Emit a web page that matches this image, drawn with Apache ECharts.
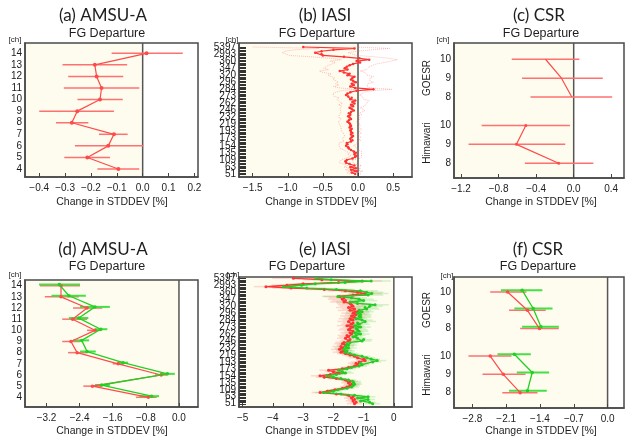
<!DOCTYPE html>
<html>
<head>
<meta charset="utf-8">
<script src="https://cdn.jsdelivr.net/npm/echarts@6/dist/echarts.min.js"></script>
<style>
  html, body { margin: 0; padding: 0; background: #fff; }
  #chart { width: 625px; height: 439px; }
</style>
</head>
<body>
<div id="chart"></div>
<script>
// ---------- data ----------
// AMSU-A channels (panels a, d)
const amsuChannels = [4, 5, 6, 7, 8, 9, 10, 11, 12, 13, 14];
const amsuA   = [-0.094, -0.214, -0.133, -0.111, -0.274, -0.253, -0.165, -0.159, -0.178, -0.185, 0.015];
const amsuALo = [-0.175, -0.303, -0.262, -0.169, -0.335, -0.400, -0.252, -0.305, -0.288, -0.310, -0.120];
const amsuAHi = [-0.013, -0.126, 0.003, -0.058, -0.210, -0.111, -0.077, -0.013, -0.075, -0.060, 0.155];

const amsuDRed     = [-0.74, -2.09, -0.43, -1.47, -2.46, -2.61, -2.03, -2.57, -2.22, -2.85, -2.85];
const amsuDRedLo   = [-1.04, -2.31, -0.58, -1.60, -2.68, -2.82, -2.22, -2.82, -2.56, -3.24, -3.36];
const amsuDRedHi   = [-0.54, -1.85, -0.28, -1.33, -2.22, -2.39, -1.87, -2.22, -1.85, -2.42, -2.39];
const amsuDGreen   = [-0.66, -1.87, -0.28, -1.35, -2.22, -2.35, -1.89, -2.42, -2.03, -2.66, -2.89];
const amsuDGreenLo = [-0.96, -2.03, -0.46, -1.49, -2.39, -2.56, -2.03, -2.66, -2.39, -3.08, -3.38];
const amsuDGreenHi = [-0.48, -1.67, -0.10, -1.23, -2.01, -2.17, -1.73, -2.19, -1.67, -2.25, -2.39];

// IASI channels (panels b, e), bottom to top
const iasiChannels = [51, 55, 57, 59, 61, 63, 70, 79, 85, 104, 109, 116, 122, 128, 131, 135, 138, 141, 144, 148,
  154, 157, 161, 163, 167, 173, 176, 179, 185, 187, 193, 199, 205, 207, 212, 219, 222, 224, 226, 230,
  232, 236, 239, 242, 243, 246, 249, 252, 254, 260, 262, 265, 267, 269, 271, 273, 275, 278, 280, 282,
  284, 286, 288, 290, 294, 296, 299, 306, 314, 316, 320, 323, 327, 331, 335, 347, 350, 352, 354, 356,
  360, 366, 373, 379, 1579, 2993, 3002, 3049, 3105, 5381, 5397];
const iasiLabelled = [51, 63, 109, 135, 154, 173, 193, 219, 232, 246, 262, 273, 284, 296, 320, 347, 360, 2993, 5397];

const iasiB = [-0.04, -0.09, -0.02, -0.10, -0.03, -0.11, -0.05, -0.12, -0.17, -0.18,
  -0.16, -0.08, -0.04, -0.02, -0.05, -0.03, -0.06, -0.10, -0.13, -0.14,
  -0.17, -0.15, -0.16, -0.10, -0.08, -0.11, -0.09, -0.07, -0.10, -0.08,
  -0.10, -0.11, -0.09, -0.12, -0.10, -0.11, -0.12, -0.15, -0.13, -0.10,
  -0.12, -0.14, -0.11, -0.13, -0.10, -0.06, -0.09, -0.12, -0.07, -0.10,
  -0.05, -0.08, -0.04, -0.11, -0.09, -0.14, -0.17, -0.15, -0.11, -0.02,
  0.22, -0.04, -0.11, -0.06, -0.09, -0.03, -0.07, -0.10, -0.08, -0.05,
  -0.15, -0.12, -0.20, -0.26, -0.15, -0.19, -0.16, -0.12, -0.07, 0.03,
  -0.02, 0.16, 0.02, -0.20, -0.50, -0.52, -0.61, -0.52, -0.35, -0.05, -0.78];
const iasiBErr = [0.08, 0.07, 0.09, 0.08, 0.07, 0.09, 0.10, 0.08, 0.10, 0.09,
  0.08, 0.10, 0.09, 0.08, 0.10, 0.09, 0.11, 0.10, 0.12, 0.11,
  0.10, 0.12, 0.11, 0.10, 0.12, 0.11, 0.13, 0.12, 0.11, 0.13,
  0.12, 0.13, 0.14, 0.12, 0.13, 0.15, 0.14, 0.13, 0.15, 0.14,
  0.15, 0.14, 0.16, 0.15, 0.14, 0.16, 0.17, 0.15, 0.16, 0.18,
  0.17, 0.18, 0.20, 0.19, 0.18, 0.20, 0.19, 0.21, 0.20, 0.22,
  0.26, 0.22, 0.24, 0.21, 0.23, 0.25, 0.24, 0.26, 0.25, 0.27,
  0.28, 0.26, 0.30, 0.29, 0.27, 0.30, 0.32, 0.30, 0.33, 0.35,
  0.38, 0.40, 0.42, 0.45, 0.48, 0.50, 0.47, 0.52, 0.55, 0.50, 0.72];

const iasiERed = [-1.30, -1.25, -1.35, -1.30, -1.40, -1.35, -1.50, -1.90, -2.44, -2.20,
  -1.95, -1.70, -1.55, -1.45, -1.40, -1.50, -1.45, -1.60, -1.90, -2.30,
  -2.44, -2.10, -1.80, -2.00, -2.16, -1.70, -1.50, -1.30, -1.20, -1.25,
  -1.15, -0.95, -1.00, -1.20, -1.30, -1.45, -1.60, -1.75, -1.65, -1.80,
  -1.70, -1.75, -1.60, -1.70, -1.65, -1.50, -1.45, -1.60, -1.50, -1.55,
  -1.40, -1.45, -1.35, -1.50, -1.45, -1.35, -1.55, -1.40, -1.35, -1.50,
  -1.35, -1.45, -1.30, -1.40, -1.25, -1.35, -1.20, -1.45, -1.30, -1.50,
  -1.35, -1.40, -1.45, -1.65, -1.60, -1.70, -1.65, -1.80, -1.35, -0.95,
  -1.20, -1.60, -2.30, -3.40, -4.23, -3.54, -3.00, -1.83, -1.05, -2.38, -3.32];
const iasiEGreen = [-0.70, -0.80, -1.10, -0.85, -1.20, -0.85, -1.30, -1.75, -2.33, -2.00,
  -1.85, -1.55, -1.40, -1.35, -1.30, -1.33, -1.35, -1.50, -1.75, -2.00,
  -2.22, -1.90, -1.60, -1.70, -1.83, -1.55, -1.40, -1.15, -1.05, -1.10,
  -0.70, -0.55, -0.75, -0.90, -1.05, -1.30, -1.45, -1.60, -1.55, -1.65,
  -1.50, -1.60, -1.50, -1.55, -1.45, -1.05, -1.00, -1.20, -1.35, -1.25,
  -1.10, -1.30, -1.15, -1.20, -1.25, -1.10, -1.30, -1.15, -1.20, -0.95,
  -1.05, -1.25, -1.10, -1.15, -1.10, -1.20, -1.05, -1.15, -0.90, -0.95,
  -0.80, -0.62, -1.20, -1.45, -1.00, -1.15, -1.40, -1.85, -0.85, -0.73,
  -0.90, -1.11, -1.90, -2.88, -3.65, -3.05, -2.60, -1.61, -0.75, -2.07, -2.57];
const iasiEErr = [0.25, 0.22, 0.24, 0.23, 0.25, 0.24, 0.26, 0.25, 0.28, 0.27,
  0.26, 0.25, 0.24, 0.23, 0.25, 0.24, 0.26, 0.25, 0.27, 0.28,
  0.30, 0.28, 0.27, 0.29, 0.30, 0.28, 0.27, 0.26, 0.25, 0.27,
  0.28, 0.30, 0.29, 0.28, 0.27, 0.26, 0.28, 0.27, 0.26, 0.28,
  0.27, 0.28, 0.29, 0.27, 0.28, 0.30, 0.29, 0.28, 0.30, 0.31,
  0.30, 0.32, 0.31, 0.33, 0.32, 0.34, 0.33, 0.35, 0.34, 0.36,
  0.35, 0.37, 0.36, 0.38, 0.37, 0.39, 0.38, 0.40, 0.42, 0.41,
  0.43, 0.45, 0.44, 0.46, 0.45, 0.48, 0.50, 0.52, 0.50, 0.55,
  0.55, 0.58, 0.60, 0.62, 0.40, 0.50, 0.55, 0.60, 0.65, 0.62, 0.70];

// CSR (panels c, f): Himawari 8,9,10 then GOESR 8,9,10
const csrPos    = [1, 2, 3, 4.5, 5.5, 6.5];
const csrLabels = ['8', '9', '10', '8', '9', '10'];
const csrC   = [-0.16, -0.61, -0.51, -0.02, -0.13, -0.30];
const csrCLo = [-0.52, -1.12, -0.98, -0.46, -0.55, -0.66];
const csrCHi = [0.21, -0.09, -0.04, 0.41, 0.31, 0.06];
const csrFRed     = [-1.81, -2.16, -2.43, -1.41, -1.66, -2.07];
const csrFRedLo   = [-2.18, -2.59, -2.88, -1.81, -2.04, -2.43];
const csrFRedHi   = [-1.45, -1.70, -1.99, -1.01, -1.28, -1.68];
const csrFGreen   = [-1.66, -1.56, -1.93, -1.38, -1.54, -1.77];
const csrFGreenLo = [-2.04, -1.88, -2.28, -1.77, -1.93, -2.21];
const csrFGreenHi = [-1.26, -1.21, -1.59, -1.01, -1.14, -1.35];

// x tick labels
const ticksA = [-0.4, -0.3, -0.2, -0.1, 0, 0.1, 0.2];
const ticksB = [-1.5, -1.0, -0.5, 0, 0.5];
const ticksC = [-1.2, -0.8, -0.4, 0, 0.4];
const ticksD = [-3.2, -2.4, -1.6, -0.8, 0];
const ticksE = [-5, -4, -3, -2, -1, 0];
const ticksF = [-2.8, -2.1, -1.4, -0.7, 0];

// ---------- helpers ----------
const FONT = '"Liberation Sans", Arial, sans-serif';
const RED = '#ff4a4a', RED_BAR = '#ff7070', GREEN = '#22d022', GREEN_BAR = '#44e044';
const FRAME = { color: '#4a4a4a', width: 1.5 };

const iasiIdx = iasiChannels.map((c, k) => k);

const fmt = (v, d) => (v < 0 ? '\u2212' : '') + Math.abs(v).toFixed(d);

function xAxisFor(i, min, max, ticks, digits) {
  return {
    gridIndex: i, type: 'value', min, max, z: 8, position: 'bottom',
    axisLine: { show: true, onZero: false, lineStyle: FRAME }, splitLine: { show: false },
    axisTick: { show: true, inside: true, length: 4, customValues: ticks, lineStyle: { color: '#444' } },
    axisLabel: {
      customValues: ticks, showMinLabel: true, showMaxLabel: true,
      formatter: v => fmt(v, digits), fontSize: 10, color: '#222', margin: 6, fontFamily: FONT
    }
  };
}

function yAxisFor(i, min, max, labelVals, labelFn, bare) {
  return {
    gridIndex: i, type: 'value', min, max, z: 8, position: 'left',
    axisLine: { show: !bare, onZero: false, lineStyle: FRAME }, splitLine: { show: false },
    axisTick: { show: false },
    axisLabel: {
      customValues: labelVals, showMinLabel: true, showMaxLabel: true, hideOverlap: false,
      formatter: labelFn, fontSize: 10, color: '#1a1a1a', margin: 3, fontFamily: FONT
    }
  };
}

// white area right of zero plus the zero line
function backdrop(i, yRef) {
  return {
    type: 'custom', xAxisIndex: i, yAxisIndex: i, z: 1, silent: true,
    encode: { x: 0, y: 1 }, data: [[0, yRef]],
    renderItem: (params, api) => {
      const cs = params.coordSys;
      const x0 = api.coord([0, yRef])[0];
      return {
        type: 'group', children: [
          { type: 'rect', shape: { x: x0, y: cs.y + 1, width: cs.x + cs.width - 1 - x0, height: cs.height - 2 }, style: { fill: '#ffffff' } },
          { type: 'line', shape: { x1: x0, y1: cs.y, x2: x0, y2: cs.y + cs.height }, style: { stroke: '#555', lineWidth: 1.5 } }
        ]
      };
    }
  };
}

// one short inward tick per IASI channel along the left frame
function channelTicks(i, ys) {
  return {
    type: 'custom', xAxisIndex: i, yAxisIndex: i, z: 7, silent: true,
    encode: { x: 0, y: 1 }, data: ys.map(y => [0, y]),
    renderItem: (params, api) => {
      const cs = params.coordSys;
      const y = Math.round(api.coord([0, api.value(1)])[1]) + 0.5;
      return { type: 'line', shape: { x1: cs.x, y1: y, x2: cs.x + 7, y2: y }, style: { stroke: '#333', lineWidth: 1 } };
    }
  };
}

function bars(i, ys, lo, hi, color, width, z) {
  return {
    type: 'custom', xAxisIndex: i, yAxisIndex: i, z, silent: true, clip: true,
    encode: { x: [1, 2], y: 0 },
    data: ys.map((y, k) => [y, lo[k], hi[k]]),
    renderItem: (params, api) => {
      const a = api.coord([api.value(1), api.value(0)]);
      const b = api.coord([api.value(2), api.value(0)]);
      return { type: 'line', shape: { x1: a[0], y1: a[1], x2: b[0], y2: b[1] }, style: { stroke: color, lineWidth: width } };
    }
  };
}

function line(i, xs, ys, color, width, size, z, dotted) {
  return {
    type: 'line', xAxisIndex: i, yAxisIndex: i, z, silent: true,
    data: xs.map((x, k) => [x, ys[k]]),
    symbol: 'circle', symbolSize: size, showSymbol: size > 0,
    lineStyle: { color, width, type: dotted ? 'dotted' : 'solid' },
    itemStyle: { color }
  };
}

const shift = (arr, d) => arr.map(v => v + d);
const part = (arr, a, b) => arr.slice(a, b);

// ---------- layout ----------
const grids = [
  { left: 25, top: 43, width: 173, height: 134 },
  { left: 239, top: 43, width: 173, height: 134 },
  { left: 454, top: 43, width: 170, height: 135 },
  { left: 25, top: 280, width: 173, height: 127 },
  { left: 239, top: 277, width: 173, height: 130 },
  { left: 454, top: 277, width: 170, height: 131 }
].map(g => Object.assign(g, { show: true, backgroundColor: '#fefcee', borderColor: '#4a4a4a', borderWidth: 1.5 }));

const xAxes = [
  xAxisFor(0, -0.455, 0.214, ticksA, 1),
  xAxisFor(1, -1.695, 0.769, ticksB, 1),
  xAxisFor(2, -1.275, 0.536, ticksC, 1),
  xAxisFor(3, -3.72, 0.46, ticksD, 1),
  xAxisFor(4, -5.12, 0.60, ticksE, 0),
  xAxisFor(5, -3.18, 0.34, ticksF, 1)
];

const csrLabel = v => csrLabels[csrPos.indexOf(v)];
// IASI labels overlap each other, so they are split over two stacked axes
const iasiLabelIdx = iasiIdx.filter(k => iasiLabelled.includes(iasiChannels[k]));
const iasiEven = iasiLabelIdx.filter((k, j) => j % 2 === 0);
const iasiOdd = iasiLabelIdx.filter((k, j) => j % 2 === 1);
const iasiName = v => String(iasiChannels[v]);
const yAxes = [
  yAxisFor(0, 3.31, 14.89, amsuChannels, v => String(v)),
  yAxisFor(1, -2.13, 92.83, iasiEven, iasiName),
  yAxisFor(2, 0.22, 7.36, csrPos, csrLabel),
  yAxisFor(3, 3.13, 14.51, amsuChannels, v => String(v)),
  yAxisFor(4, -2.37, 90.93, iasiEven, iasiName),
  yAxisFor(5, 0.16, 7.32, csrPos, csrLabel),
  yAxisFor(1, -2.13, 92.83, iasiOdd, iasiName, true),
  yAxisFor(4, -2.37, 90.93, iasiOdd, iasiName, true)
];

const series = [
  // (a)
  backdrop(0, 4),
  bars(0, amsuChannels, amsuALo, amsuAHi, RED_BAR, 1.5, 3),
  line(0, amsuA, amsuChannels, RED, 1.2, 4, 4),
  // (b)
  backdrop(1, 0),
  channelTicks(1, iasiIdx),
  line(1, iasiB.map((v, k) => v - iasiBErr[k]), iasiIdx, 'rgba(255,110,110,0.45)', 1, 0, 3, true),
  line(1, iasiB.map((v, k) => v + iasiBErr[k]), iasiIdx, 'rgba(255,110,110,0.45)', 1, 0, 3, true),
  line(1, iasiB, iasiIdx, '#ff3333', 1.2, 2.5, 4),
  // (c)
  backdrop(2, 1),
  bars(2, csrPos, csrCLo, csrCHi, RED_BAR, 1.5, 3),
  line(2, part(csrC, 0, 3), part(csrPos, 0, 3), RED, 1.2, 3, 4),
  line(2, part(csrC, 3, 6), part(csrPos, 3, 6), RED, 1.2, 0, 4),
  // (d)
  backdrop(3, 4),
  bars(3, amsuChannels, amsuDRedLo, amsuDRedHi, RED_BAR, 1.5, 3),
  bars(3, shift(amsuChannels, 0.1), amsuDGreenLo, amsuDGreenHi, GREEN_BAR, 2, 4),
  line(3, amsuDRed, amsuChannels, RED, 1.2, 3.5, 5),
  line(3, amsuDGreen, shift(amsuChannels, 0.1), GREEN, 1.3, 3.5, 6),
  // (e)
  backdrop(4, 0),
  channelTicks(4, iasiIdx),
  bars(4, iasiIdx, iasiERed.map((v, k) => v - iasiEErr[k]), iasiERed.map((v, k) => v + iasiEErr[k]), 'rgba(255,90,90,0.22)', 1.5, 3),
  bars(4, iasiIdx, iasiEGreen.map((v, k) => v - iasiEErr[k]), iasiEGreen.map((v, k) => v + iasiEErr[k]), 'rgba(60,210,60,0.22)', 1.5, 3),
  line(4, iasiERed, iasiIdx, '#ff3333', 1.3, 3, 5),
  line(4, iasiEGreen, iasiIdx, '#22cc22', 1.3, 3, 6),
  // (f)
  backdrop(5, 1),
  bars(5, csrPos, csrFRedLo, csrFRedHi, RED_BAR, 1.5, 3),
  bars(5, shift(csrPos, 0.1), csrFGreenLo, csrFGreenHi, GREEN_BAR, 2, 4),
  line(5, part(csrFRed, 0, 3), part(csrPos, 0, 3), RED, 1.2, 3.5, 5),
  line(5, part(csrFRed, 3, 6), part(csrPos, 3, 6), RED, 1.2, 3.5, 5),
  line(5, part(csrFGreen, 0, 3), part(shift(csrPos, 0.1), 0, 3), GREEN, 1.3, 3.5, 6),
  line(5, part(csrFGreen, 3, 6), part(shift(csrPos, 0.1), 3, 6), GREEN, 1.3, 3.5, 6)
];

// ---------- texts ----------
const TITLE = '17px Lato, "Open Sans", sans-serif';
const SUB = '12.5px ' + FONT;
const XL = '10.5px ' + FONT;
const CH = '8px ' + FONT;
const txt = (text, x, y, font, rot) => ({
  type: 'text', x, y, rotation: rot || 0, silent: true,
  style: { text, font, fill: '#1e1e1e', textAlign: 'center', textVerticalAlign: 'middle' }
});
const graphics = [
  txt('(a) AMSU-A', 103, 16, TITLE), txt('FG Departure', 107, 34, SUB), txt('Change in STDDEV [%]', 112, 202, XL), txt('[ch]', 15, 40, CH),
  txt('(b) IASI', 325, 16, TITLE), txt('FG Departure', 317, 34, SUB), txt('Change in STDDEV [%]', 321, 202, XL), txt('[ch]', 232, 40, CH),
  txt('(c) CSR', 539, 16, TITLE), txt('FG Departure', 541, 34, SUB), txt('Change in STDDEV [%]', 541, 202, XL), txt('[ch]', 443, 40, CH),
  txt('GOESR', 427, 78, '10px ' + FONT, Math.PI / 2), txt('Himawari', 427, 143, '10px ' + FONT, Math.PI / 2),
  txt('(d) AMSU-A', 103, 250, TITLE), txt('FG Departure', 107, 267, SUB), txt('Change in STDDEV [%]', 112, 431, XL), txt('[ch]', 15, 275, CH),
  txt('(e) IASI', 325, 250, TITLE), txt('FG Departure', 307, 267, SUB), txt('Change in STDDEV [%]', 321, 431, XL), txt('[ch]', 233, 275, CH),
  txt('(f) CSR', 538, 250, TITLE), txt('FG Departure', 538, 267, SUB), txt('Change in STDDEV [%]', 541, 431, XL), txt('[ch]', 447, 276, CH),
  txt('GOESR', 427, 310, '10px ' + FONT, Math.PI / 2), txt('Himawari', 427, 375, '10px ' + FONT, Math.PI / 2)
];

const chart = echarts.init(document.getElementById('chart'));
chart.setOption({
  animation: false,
  textStyle: { fontFamily: FONT },
  grid: grids,
  xAxis: xAxes,
  yAxis: yAxes,
  series,
  graphic: graphics
});
</script>
</body>
</html>
